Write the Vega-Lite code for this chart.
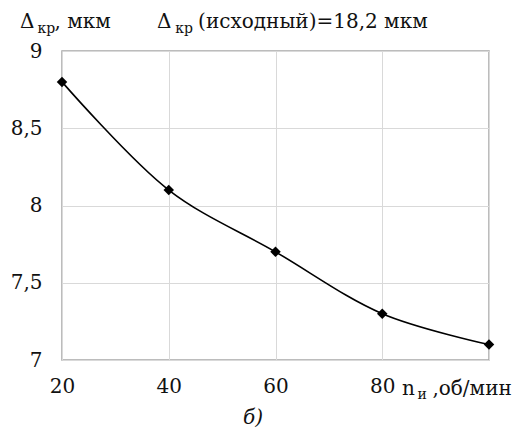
{
  "$schema": "https://vega.github.io/schema/vega-lite/v6.json",
  "autosize": "none",
  "width": 427,
  "height": 309,
  "padding": {"left": 62, "top": 51, "right": 43, "bottom": 81},
  "background": "white",
  "config": {
    "view": {"stroke": "#a6a6a6", "strokeWidth": 1.5},
    "font": "DejaVu Serif",
    "text": {"font": "DejaVu Serif", "color": "#111"}
  },
  "data": {"values": [
    {"n": 20, "d": 8.8},
    {"n": 40, "d": 8.1},
    {"n": 60, "d": 7.7},
    {"n": 80, "d": 7.3},
    {"n": 100, "d": 7.1}
  ]},
  "encoding": {
    "x": {"field": "n", "type": "quantitative",
      "scale": {"domain": [20, 100], "nice": false},
      "axis": {"values": [20, 40, 60, 80, 100], "title": null, "domain": false, "ticks": false,
        "grid": true, "gridColor": "#d9d9d9", "gridWidth": 1,
        "labelFont": "DejaVu Serif", "labelFontSize": 20, "labelColor": "#111",
        "labelPadding": 16, "labelExpr": "datum.value == 100 ? '' : format(datum.value, 'd')", "labelFlush": false}},
    "y": {"field": "d", "type": "quantitative",
      "scale": {"domain": [7, 9], "nice": false, "zero": false},
      "axis": {"values": [7, 7.5, 8, 8.5, 9], "title": null, "domain": false, "ticks": false,
        "grid": true, "gridColor": "#d9d9d9", "gridWidth": 1,
        "labelFont": "DejaVu Serif", "labelFontSize": 20, "labelColor": "#111",
        "labelPadding": 20, "labelExpr": "replace(format(datum.value, '~g'), '.', ',')"}}
  },
  "layer": [
    {"mark": {"type": "line", "interpolate": "catmull-rom", "color": "black", "strokeWidth": 1.6}},
    {"mark": {"type": "point", "shape": "diamond", "filled": true, "color": "black", "size": 110, "opacity": 1}},
    {"transform": [{"filter": "datum.n == 20"}], "mark": {"type": "text", "text": "Δ", "align": "left", "baseline": "alphabetic", "fontSize": 20},
      "encoding": {"x": {"datum": 12.13}, "y": {"datum": 9.149}}},
    {"transform": [{"filter": "datum.n == 20"}], "mark": {"type": "text", "text": "кр", "align": "left", "baseline": "alphabetic", "fontSize": 14},
      "encoding": {"x": {"datum": 15.4}, "y": {"datum": 9.117}}},
    {"transform": [{"filter": "datum.n == 20"}], "mark": {"type": "text", "text": ", мкм", "align": "left", "baseline": "alphabetic", "fontSize": 20},
      "encoding": {"x": {"datum": 18.6}, "y": {"datum": 9.149}}},
    {"transform": [{"filter": "datum.n == 20"}], "mark": {"type": "text", "text": "Δ", "align": "left", "baseline": "alphabetic", "fontSize": 20},
      "encoding": {"x": {"datum": 37.8}, "y": {"datum": 9.149}}},
    {"transform": [{"filter": "datum.n == 20"}], "mark": {"type": "text", "text": "кр", "align": "left", "baseline": "alphabetic", "fontSize": 14},
      "encoding": {"x": {"datum": 41.2}, "y": {"datum": 9.117}}},
    {"transform": [{"filter": "datum.n == 20"}], "mark": {"type": "text", "text": "(исходный)=18,2 мкм", "align": "left", "baseline": "alphabetic", "fontSize": 20},
      "encoding": {"x": {"datum": 45.5}, "y": {"datum": 9.149}}},
    {"transform": [{"filter": "datum.n == 20"}], "mark": {"type": "text", "text": "n", "align": "left", "baseline": "alphabetic", "fontSize": 20},
      "encoding": {"x": {"datum": 83.7}, "y": {"datum": 6.7735}}},
    {"transform": [{"filter": "datum.n == 20"}], "mark": {"type": "text", "text": "и", "align": "left", "baseline": "alphabetic", "fontSize": 14},
      "encoding": {"x": {"datum": 86.6}, "y": {"datum": 6.748}}},
    {"transform": [{"filter": "datum.n == 20"}], "mark": {"type": "text", "text": ",об/мин", "align": "left", "baseline": "alphabetic", "fontSize": 20},
      "encoding": {"x": {"datum": 89.4}, "y": {"datum": 6.7735}}},
    {"transform": [{"filter": "datum.n == 20"}], "mark": {"type": "text", "text": "б)", "align": "center", "baseline": "alphabetic", "fontSize": 20, "fontStyle": "italic"},
      "encoding": {"x": {"datum": 55.8}, "y": {"datum": 6.586}}}
  ]
}
